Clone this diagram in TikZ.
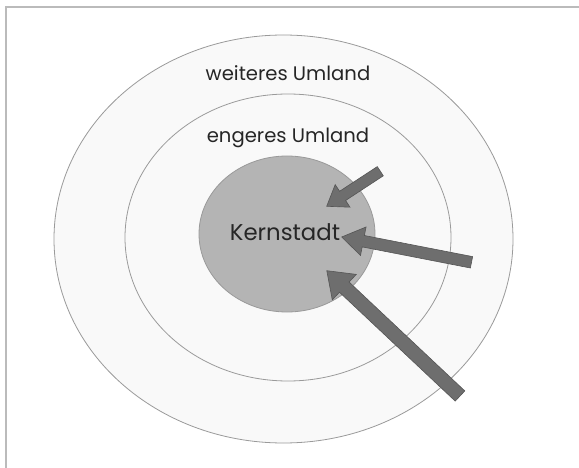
\documentclass[tikz,border=0pt]{standalone}
\usepackage{fontspec}
\setmainfont{Poppins}
\usetikzlibrary{calc,shapes.geometric}
\definecolor{ringline}{HTML}{9A9A9A}
\definecolor{ringfill}{HTML}{F9F9F9}
\definecolor{corefill}{HTML}{B4B4B4}
\definecolor{arrowfill}{HTML}{6E6E6E}
\definecolor{arrowline}{HTML}{555555}
\definecolor{framecol}{HTML}{BBBBBB}
\newcommand{\blockarrow}[5]{%
  \coordinate (#2-base) at ($(#2)!#5!(#1)$);
  \filldraw[arrowstyle]
    ($(#1)!#3!90:(#2)$) -- ($(#2-base)!#3!90:(#2)$) -- ($(#2-base)!#4!90:(#2)$) -- (#2)
    -- ($(#2-base)!#4!-90:(#2)$) -- ($(#2-base)!#3!-90:(#2)$) -- ($(#1)!#3!-90:(#2)$) -- cycle;}
\tikzset{
  ring/.style={ellipse, draw=ringline, line width=0.8pt, inner sep=0pt},
  label/.style={inner sep=0pt, text=black!85},
  arrowstyle/.style={fill=arrowfill, draw=arrowline, line width=0.6pt, line join=miter},
  framestyle/.style={draw=framecol, line width=1.3pt}
}
\begin{document}
\begin{tikzpicture}[x=1pt,y=-1pt]
\useasboundingbox (0,0) rectangle (579,468);
\fill[white] (0,0) rectangle (579,468);
\coordinate (fTL) at (6,7);
\coordinate (fTR) at (579,7);
\coordinate (fBL) at (6,468);
\draw[framestyle] (fTR) -- (fTL) -- (fBL);
% rings
\node[ring, fill=ringfill, minimum width=459pt, minimum height=408pt] (outer) at (283.5,239) {};
\node[ring, fill=ringfill, minimum width=326pt, minimum height=287pt] (middle) at (288,237.5) {};
\node[ring, fill=corefill, minimum width=176pt, minimum height=156pt] (core) at (287,234) {};
% labels
\node[label, font=\fontsize{19.6}{19.6}\selectfont] (tw) at (288,73) {weiteres Umland};
\node[label, font=\fontsize{19.6}{19.6}\selectfont] (te) at (288,138) {engeres Umland};
\node[label, font=\fontsize{22.8}{22.8}\selectfont] (tk) at (285,232) {Kernstadt};
% arrows
\coordinate (a1t) at (380.3,171.2);
\coordinate (a1p) at (326.7,206.3);
\coordinate (a2t) at (471.5,262.3);
\coordinate (a2p) at (341.7,237);
\coordinate (a3t) at (460,396);
\coordinate (a3p) at (326.8,270.7);
\blockarrow{a1t}{a1p}{5.5pt}{13.5pt}{19pt}
\blockarrow{a2t}{a2p}{5.8pt}{14.5pt}{22pt}
\blockarrow{a3t}{a3p}{7pt}{17.5pt}{24pt}
\end{tikzpicture}
\end{document}
